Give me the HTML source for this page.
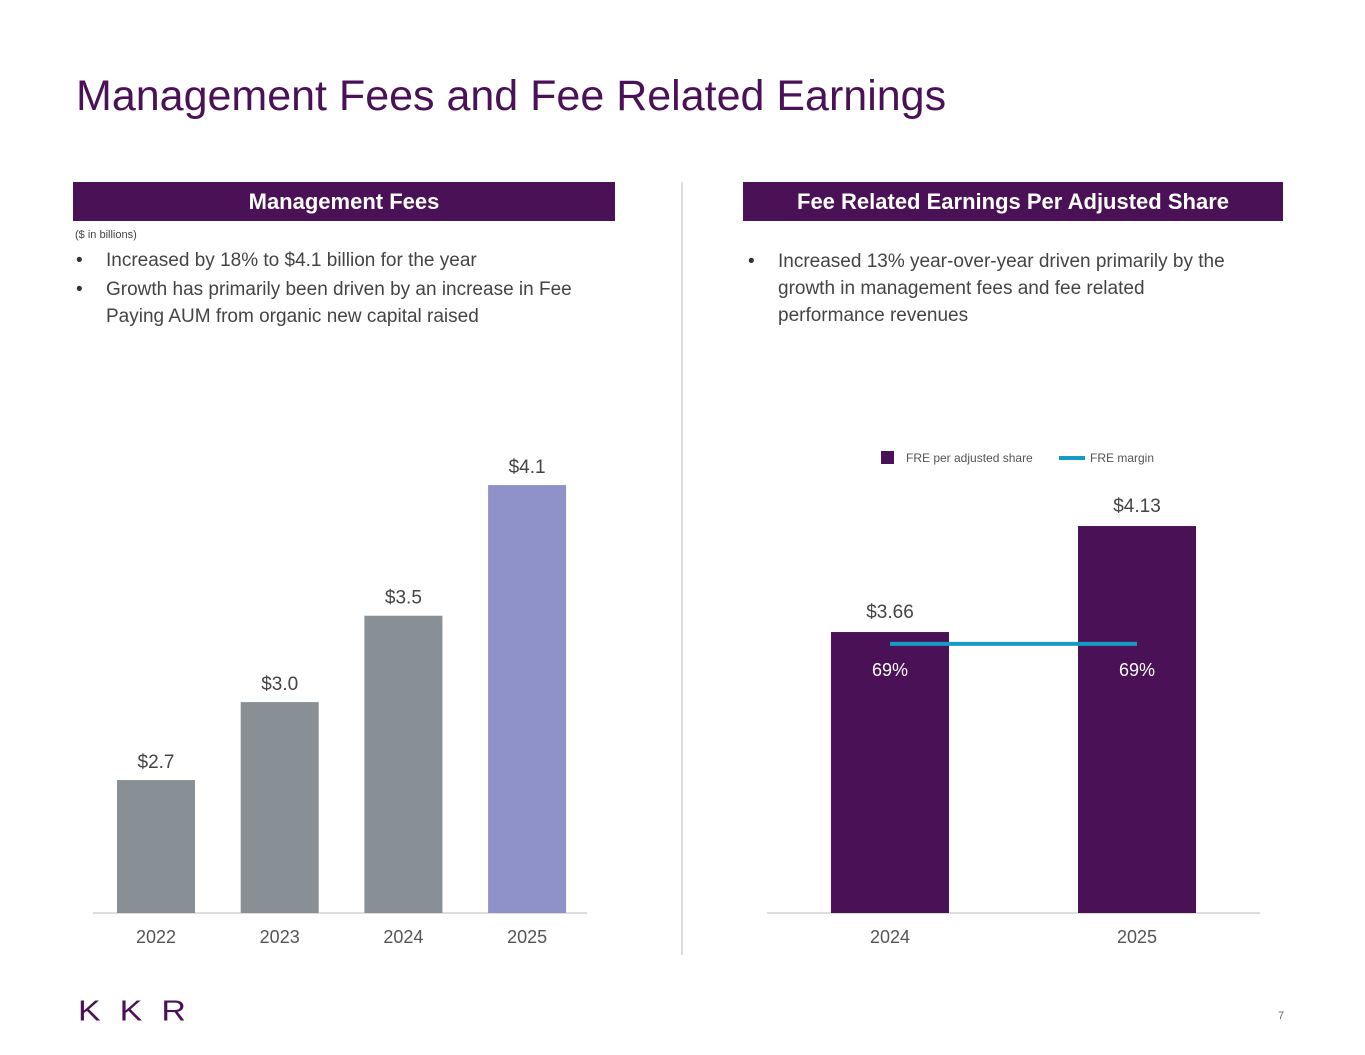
<!DOCTYPE html>
<html><head><meta charset="utf-8"><style>
body{margin:0;width:1365px;height:1055px;background:#fff;font-family:"Liberation Sans",sans-serif;position:relative;overflow:hidden;color:#444}
.abs{position:absolute}
.hdr{position:absolute;top:182px;height:39px;background:#4B1157;color:#fff;font-weight:bold;font-size:22px;line-height:39px;text-align:center}
ul{margin:0;padding:0;list-style:none}
li{position:relative;padding-left:32px;font-size:19px;line-height:27px;color:#444}
li:before{content:"•";position:absolute;left:2px;color:#333}
</style></head><body>
<div class="abs" style="left:76px;top:72px;font-size:43px;color:#4B1157">Management Fees and Fee Related Earnings</div>
<div class="hdr" style="left:73px;width:542px">Management Fees</div>
<div class="hdr" style="left:743px;width:540px">Fee Related Earnings Per Adjusted Share</div>
<div class="abs" style="left:75px;top:229px;font-size:11px;color:#444">($ in billions)</div>
<ul class="abs" style="left:74px;top:247px;width:540px">
<li>Increased by 18% to $4.1 billion for the year</li>
<li style="margin-top:2px">Growth has primarily been driven by an increase in Fee Paying AUM from organic new capital raised</li></ul>
<ul class="abs" style="left:746px;top:248px;width:500px">
<li>Increased 13% year-over-year driven primarily by the growth in management fees and fee related performance revenues</li></ul>
<div class="abs" style="left:681px;top:182px;width:2px;height:773px;background:#ddd"></div>
<svg class="abs" style="left:0;top:0" width="1365" height="1055" id="svg"></svg>
<div class="abs" style="left:78px;top:992px;font-size:34px;letter-spacing:19px;color:#4B1157;font-weight:normal;transform:scaleY(0.85)">KKR</div>
<div class="abs" style="left:1278px;top:1010px;font-size:11px;color:#666">7</div>
<script>
const mfYears=["2022","2023","2024","2025"];
const mfValues=[2.70,3.07,3.48,4.10];
const mfLabels=["$2.7","$3.0","$3.5","$4.1"];
const freYears=["2024","2025"];
const freValues=[3.66,4.13];
const freLabels=["$3.66","$4.13"];
const freMargin=[0.69,0.69];
const freMarginLabels=["69%","69%"];
const NS="http://www.w3.org/2000/svg",svg=document.getElementById('svg');
function mk(t,a,txt){const e=document.createElementNS(NS,t);for(const k in a)e.setAttribute(k,a[k]);if(txt!=null)e.textContent=txt;svg.appendChild(e);return e;}
const base=913;
const yL=v=>base-210.7*(v-2.069);
const xL=i=>117+i*123.7;
let e=mk('line',{x1:93,x2:587,y1:base,y2:base,stroke:'#bbb','stroke-width':1});

mfValues.forEach((v,i)=>{
 const b=mk('rect',{x:xL(i),y:yL(v),width:78,height:base-yL(v),fill:i==3?'#8F91C9':'#889095'});
 
 const l=mk('text',{x:xL(i)+39,y:yL(v)-12,'text-anchor':'middle','font-size':19,fill:'#444'},mfLabels[i]);
 
 const t=mk('text',{x:xL(i)+39,y:943,'text-anchor':'middle','font-size':18,fill:'#555'},mfYears[i]);
 
});
const yR=v=>base-225.5*(v-2.414);
const xR=i=>831+i*247;
const yM=m=>base-390*m;
e=mk('line',{x1:767,x2:1260,y1:base,y2:base,stroke:'#bbb','stroke-width':1});

freValues.forEach((v,i)=>{
 const b=mk('rect',{x:xR(i),y:yR(v),width:118,height:base-yR(v),fill:'#4B1157'});
 
 const l=mk('text',{x:xR(i)+59,y:yR(v)-14,'text-anchor':'middle','font-size':19,fill:'#444'},freLabels[i]);
 
 const t=mk('text',{x:xR(i)+59,y:943,'text-anchor':'middle','font-size':18,fill:'#555'},freYears[i]);
 
 const m=mk('text',{x:xR(i)+59,y:yM(freMargin[i])+32,'text-anchor':'middle','font-size':18,fill:'#fff'},freMarginLabels[i]);
 
});
const pts=freMargin.map((m,i)=>(xR(i)+59)+','+yM(m)).join(' ');
e=mk('polyline',{points:pts,fill:'none',stroke:'#169CC4','stroke-width':4});

e=mk('rect',{x:881,y:451,width:13,height:13,fill:'#4B1157'});

e=mk('text',{x:906,y:462,'font-size':12,fill:'#555'},'FRE per adjusted share');

e=mk('line',{x1:1059,x2:1085,y1:458,y2:458,stroke:'#169CC4','stroke-width':4});

e=mk('text',{x:1090,y:462,'font-size':12,fill:'#555'},'FRE margin');

</script>
</body></html>
